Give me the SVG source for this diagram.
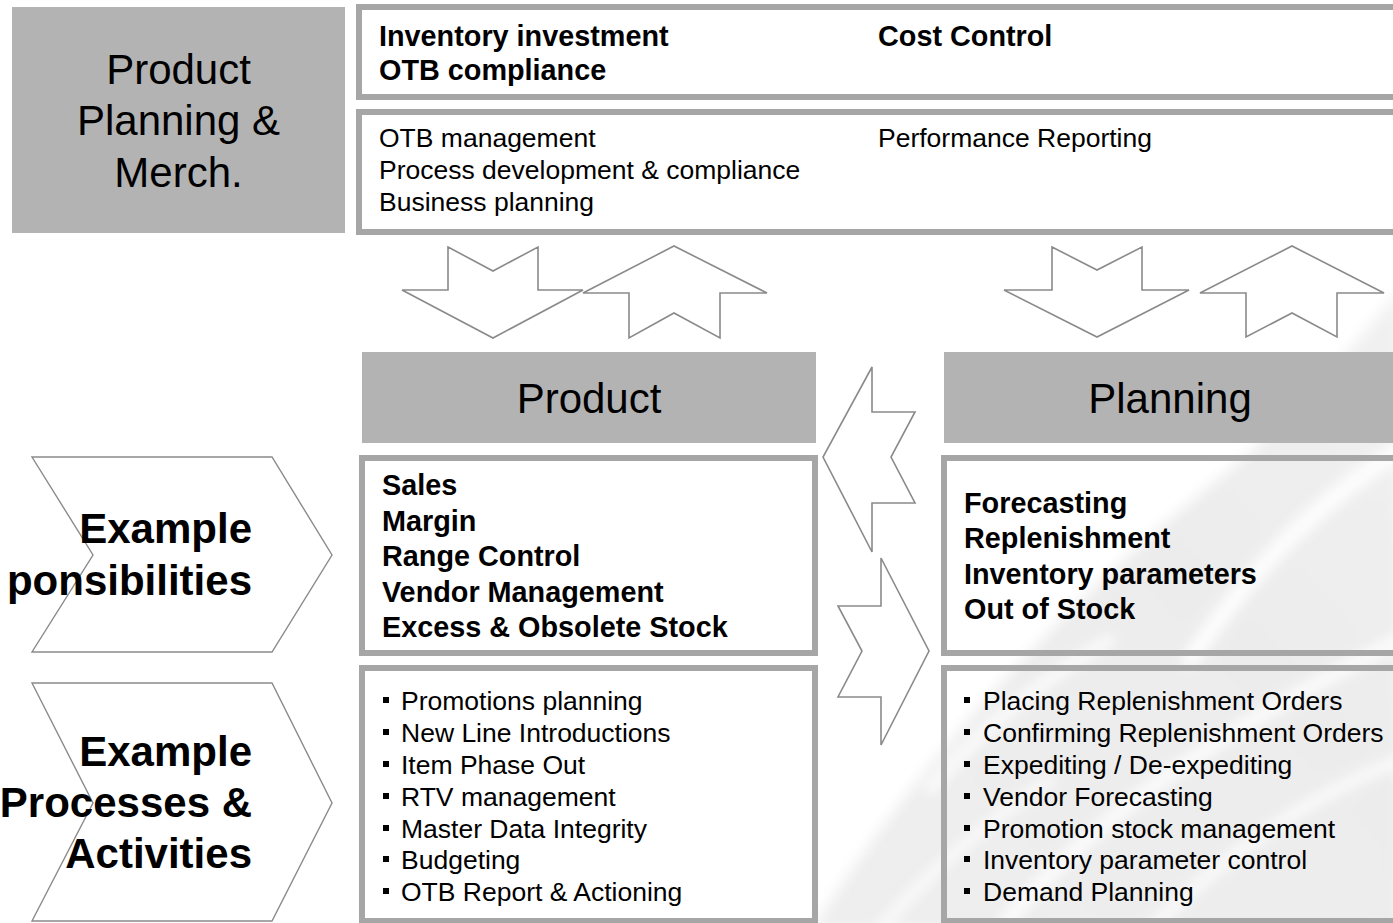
<svg xmlns="http://www.w3.org/2000/svg" width="1393" height="923" viewBox="0 0 1393 923">
  <style>
    .hdr { fill: #b3b3b3; }
    .frame { fill: none; stroke: #a6a6a6; stroke-width: 6; }
    .frame-w { fill: #ffffff; stroke: #a6a6a6; stroke-width: 6; }
    .arrow { fill: #ffffff; stroke: #8a8a8a; stroke-width: 1.6; stroke-linejoin: miter; }
    .chev { fill: #ffffff; stroke: #8a8a8a; stroke-width: 1.4; }
    .t { font-family: "Liberation Sans", Arial, sans-serif; fill: #000000; }
    .big { font-size: 42px; }
    .lab { font-size: 42px; font-weight: bold; text-anchor: end; }
    .b { font-size: 28.8px; font-weight: bold; }
    .r { font-size: 26.5px; }
    .mid { text-anchor: middle; }
    .dot { fill: #000000; }
    .streak { fill: none; stroke: #ffffff; stroke-linecap: round; }
  </style>
  <defs>
    <filter id="soft" x="-10%" y="-10%" width="120%" height="120%">
      <feGaussianBlur stdDeviation="7"/>
    </filter>
    <linearGradient id="sweep" x1="0" y1="1" x2="1" y2="0">
      <stop offset="0" stop-color="#eeeeee"/>
      <stop offset="0.6" stop-color="#ececec"/>
      <stop offset="1" stop-color="#f1f1f1"/>
    </linearGradient>
  </defs>

  <rect width="1393" height="923" fill="#ffffff"/>

  <!-- faint background swoosh, lower right -->
  <g id="swoosh" filter="url(#soft)">
    <path d="M 812 930 C 900 790 1040 620 1230 470 C 1300 410 1350 350 1400 290 L 1400 930 Z" fill="url(#sweep)"/>
    <path class="streak" stroke-width="16" d="M 1190 660 C 1250 570 1320 500 1400 450"/>
    <path class="streak" stroke-width="10" d="M 930 790 C 980 730 1040 680 1110 640"/>
    <path class="streak" stroke-width="12" d="M 1000 930 C 1080 830 1200 740 1400 640"/>
    <path class="streak" stroke-width="9" d="M 1150 930 C 1220 860 1300 800 1400 760"/>
    <path class="streak" stroke-width="8" d="M 880 930 C 930 870 990 820 1050 780"/>
  </g>

  <!-- top band -->
  <g id="ppm">
    <rect class="hdr" x="12" y="7" width="333" height="226"/>
    <text class="t big mid" x="178.5" y="84">Product</text>
    <text class="t big mid" x="178.5" y="135">Planning &amp;</text>
    <text class="t big mid" x="178.5" y="187">Merch.</text>
  </g>
  <g id="ppm-kpi">
    <rect class="frame-w" x="359" y="7" width="1040" height="90"/>
    <text class="t b" x="379" y="46">Inventory investment</text>
    <text class="t b" x="379" y="80">OTB compliance</text>
    <text class="t b" x="878" y="46">Cost Control</text>
  </g>
  <g id="ppm-tasks">
    <rect class="frame-w" x="359" y="112" width="1040" height="120"/>
    <text class="t r" x="379" y="147">OTB management</text>
    <text class="t r" x="379" y="179">Process development &amp; compliance</text>
    <text class="t r" x="379" y="211">Business planning</text>
    <text class="t r" x="878" y="147">Performance Reporting</text>
  </g>

  <!-- row labels -->
  <g id="resp-label">
    <polygon class="chev" points="32,457 272,457 332,555 272,652 32,652 93,555"/>
    <text class="t lab" x="252" y="543">Example</text>
    <text class="t lab" x="252" y="595">ponsibilities</text>
  </g>
  <g id="proc-label">
    <polygon class="chev" points="32,683 272,683 332,803 272,921 32,921 93,803"/>
    <text class="t lab" x="252" y="766">Example</text>
    <text class="t lab" x="252" y="817">Processes &amp;</text>
    <text class="t lab" x="252" y="868">Activities</text>
  </g>

  <!-- Product column -->
  <g id="product-head">
    <rect class="hdr" x="362" y="352" width="454" height="91"/>
    <text class="t big mid" x="589" y="413">Product</text>
  </g>
  <g id="product-resp">
    <rect class="frame-w" x="362" y="458" width="453" height="195"/>
    <text class="t b" x="382" y="495">Sales</text>
    <text class="t b" x="382" y="531">Margin</text>
    <text class="t b" x="382" y="566">Range Control</text>
    <text class="t b" x="382" y="602">Vendor Management</text>
    <text class="t b" x="382" y="637">Excess &amp; Obsolete Stock</text>
  </g>
  <g id="product-proc">
    <rect class="frame" x="362" y="668" width="453" height="253"/>
    <rect class="dot" x="383" y="697" width="6" height="6"/>
    <rect class="dot" x="383" y="729" width="6" height="6"/>
    <rect class="dot" x="383" y="761" width="6" height="6"/>
    <rect class="dot" x="383" y="793" width="6" height="6"/>
    <rect class="dot" x="383" y="825" width="6" height="6"/>
    <rect class="dot" x="383" y="856" width="6" height="6"/>
    <rect class="dot" x="383" y="888" width="6" height="6"/>
    <text class="t r" x="401" y="710">Promotions planning</text>
    <text class="t r" x="401" y="742">New Line Introductions</text>
    <text class="t r" x="401" y="774">Item Phase Out</text>
    <text class="t r" x="401" y="806">RTV management</text>
    <text class="t r" x="401" y="838">Master Data Integrity</text>
    <text class="t r" x="401" y="869">Budgeting</text>
    <text class="t r" x="401" y="901">OTB Report &amp; Actioning</text>
  </g>

  <!-- Planning column -->
  <g id="planning-head">
    <rect class="hdr" x="944" y="352" width="449" height="91"/>
    <text class="t big mid" x="1170" y="413">Planning</text>
  </g>
  <g id="planning-resp">
    <rect class="frame" x="944" y="458" width="460" height="195"/>
    <text class="t b" x="964" y="513">Forecasting</text>
    <text class="t b" x="964" y="548">Replenishment</text>
    <text class="t b" x="964" y="584">Inventory parameters</text>
    <text class="t b" x="964" y="619">Out of Stock</text>
  </g>
  <g id="planning-proc">
    <rect class="frame" x="944" y="668" width="460" height="253"/>
    <rect class="dot" x="964" y="697" width="6" height="6"/>
    <rect class="dot" x="964" y="729" width="6" height="6"/>
    <rect class="dot" x="964" y="761" width="6" height="6"/>
    <rect class="dot" x="964" y="793" width="6" height="6"/>
    <rect class="dot" x="964" y="825" width="6" height="6"/>
    <rect class="dot" x="964" y="856" width="6" height="6"/>
    <rect class="dot" x="964" y="888" width="6" height="6"/>
    <text class="t r" x="983" y="710">Placing Replenishment Orders</text>
    <text class="t r" x="983" y="742">Confirming Replenishment Orders</text>
    <text class="t r" x="983" y="774">Expediting / De-expediting</text>
    <text class="t r" x="983" y="806">Vendor Forecasting</text>
    <text class="t r" x="983" y="838">Promotion stock management</text>
    <text class="t r" x="983" y="869">Inventory parameter control</text>
    <text class="t r" x="983" y="901">Demand Planning</text>
  </g>

  <!-- flow arrows -->
  <g id="connectors">
    <polygon class="arrow" points="448,247 493,271 538,247 538,290 583,290 493,338 402,290 448,290"/>
    <polygon class="arrow" points="583,293 674,246 767,293 720,293 720,338 674,313 629,338 629,293"/>
    <polygon class="arrow" points="1052,247 1097,270 1142,247 1142,290 1189,290 1097,337 1004,290 1052,290"/>
    <polygon class="arrow" points="1200,293 1292,246 1384,293 1337,293 1337,337 1292,313 1246,337 1246,293"/>
    <polygon class="arrow" points="872,367 872,412 915,412 891,457 915,503 872,503 872,552 823,457"/>
    <polygon class="arrow" points="881,558 881,606 838,606 862,651 838,697 881,697 881,745 929,651"/>
  </g>
</svg>
